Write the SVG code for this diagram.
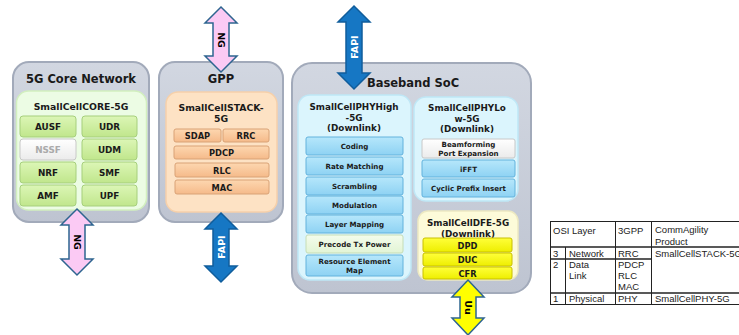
<svg xmlns="http://www.w3.org/2000/svg" width="739" height="335" viewBox="0 0 739 335">
<defs>
<linearGradient id="gGray" x1="0" y1="0" x2="0" y2="1"><stop offset="0" stop-color="#d2d7e1"/><stop offset="1" stop-color="#bec4d1"/></linearGradient>
<linearGradient id="gGreen" x1="0" y1="0" x2="0" y2="1"><stop offset="0" stop-color="#dcf6b6"/><stop offset="1" stop-color="#c0e68c"/></linearGradient>
<linearGradient id="gOrange" x1="0" y1="0" x2="0" y2="1"><stop offset="0" stop-color="#fdd7b0"/><stop offset="1" stop-color="#f5ba8a"/></linearGradient>
<linearGradient id="gBlue" x1="0" y1="0" x2="0" y2="1"><stop offset="0" stop-color="#b6e7fb"/><stop offset="1" stop-color="#8ed2f3"/></linearGradient>
<linearGradient id="gYellow" x1="0" y1="0" x2="0" y2="1"><stop offset="0" stop-color="#ffff3a"/><stop offset="1" stop-color="#eeee00"/></linearGradient>
<linearGradient id="gWhite" x1="0" y1="0" x2="0" y2="1"><stop offset="0" stop-color="#ffffff"/><stop offset="1" stop-color="#ebebeb"/></linearGradient>
<linearGradient id="gPale" x1="0" y1="0" x2="0" y2="1"><stop offset="0" stop-color="#f4fcec"/><stop offset="1" stop-color="#e2f4d5"/></linearGradient>
</defs>
<style>
.outer{fill:url(#gGray);stroke:#a2aaba;stroke-width:2}
.t{font-family:"DejaVu Sans",Verdana,sans-serif;font-weight:bold;fill:#1a1a1a;text-anchor:middle}
.title{font-size:11.5px}
.sub{font-size:9.3px}
.sub9{font-size:8.8px}
.c9{font-size:8.8px}
.c85{font-size:8.3px}
.c7{font-size:7.1px}
.cg{fill:url(#gGreen);stroke:#a6cf7c;stroke-width:1}
.co{fill:url(#gOrange);stroke:#d9a276;stroke-width:1}
.cb{fill:url(#gBlue);stroke:#62b2dc;stroke-width:1}
.cy{fill:url(#gYellow);stroke:#c8c000;stroke-width:1}
.cw{fill:url(#gWhite);stroke:#c8c8c8;stroke-width:1}
.cp{fill:url(#gPale);stroke:#c6ddb6;stroke-width:1}
.arr{stroke:#2e6590;stroke-width:1.5;stroke-linejoin:miter}
.ng{fill:#fbcaf4}
.fapi{fill:#1677c4;stroke:#105d9c}
.uu{fill:#ffff00}
.al{font-family:"DejaVu Sans",Verdana,sans-serif;font-weight:bold;font-size:9.5px;text-anchor:middle}
.tb{font-family:"Liberation Sans",Arial,sans-serif;font-size:9.5px;fill:#222}
.tl{stroke:#222;stroke-width:1;fill:none}
</style>

<g id="core">
<rect class="outer" x="13" y="62" width="136" height="160" rx="16"/>
<text class="t title" x="81" y="83">5G Core Network</text>
<rect x="16.5" y="91" width="130" height="119" rx="12" fill="#ecfce4" stroke="#d2efbf" stroke-width="1.5"/>
<text class="t sub" x="81" y="110">SmallCellCORE-5G</text>
<rect class="cg" x="20" y="116" width="56" height="21" rx="3"/><text class="t c9" x="48" y="130">AUSF</text>
<rect class="cg" x="82" y="116" width="55" height="21" rx="3"/><text class="t c9" x="109.5" y="130">UDR</text>
<rect class="cw" x="20" y="139" width="56" height="21" rx="3"/><text class="t c9" x="48" y="153" style="fill:#aaaaaa">NSSF</text>
<rect class="cg" x="82" y="139" width="55" height="21" rx="3"/><text class="t c9" x="109.5" y="153">UDM</text>
<rect class="cg" x="20" y="162" width="56" height="21" rx="3"/><text class="t c9" x="48" y="176">NRF</text>
<rect class="cg" x="82" y="162" width="55" height="21" rx="3"/><text class="t c9" x="109.5" y="176">SMF</text>
<rect class="cg" x="20" y="185" width="56" height="21" rx="3"/><text class="t c9" x="48" y="199">AMF</text>
<rect class="cg" x="82" y="185" width="55" height="21" rx="3"/><text class="t c9" x="109.5" y="199">UPF</text>
</g>

<g id="gpp">
<rect class="outer" x="159" y="62" width="124" height="160" rx="16"/>
<text class="t title" x="221" y="83">GPP</text>
<rect x="166" y="92" width="111" height="120" rx="12" fill="#fde2c4" stroke="#f6d0aa" stroke-width="1.5"/>
<text class="t sub" x="221" y="111">SmallCellSTACK-</text>
<text class="t sub" x="221" y="121.5">5G</text>
<rect class="co" x="174" y="129" width="47" height="13" rx="2"/><text class="t c85" x="197.5" y="139">SDAP</text>
<rect class="co" x="223" y="129" width="46" height="13" rx="2"/><text class="t c85" x="246" y="139">RRC</text>
<rect class="co" x="174" y="146" width="95" height="13" rx="2"/><text class="t c85" x="221.5" y="156">PDCP</text>
<rect class="co" x="175" y="163" width="94" height="14" rx="2"/><text class="t c85" x="222" y="173.5">RLC</text>
<rect class="co" x="175" y="180" width="94" height="14" rx="2"/><text class="t c85" x="222" y="190.5">MAC</text>
</g>

<g id="baseband">
<rect class="outer" x="292" y="63" width="239" height="230" rx="20"/>
<text class="t title" x="413" y="87">Baseband SoC</text>
</g>

<g id="phyhigh">
<rect x="298" y="95" width="113" height="185" rx="12" fill="#dbf5fd" stroke="#bfe7f6" stroke-width="1.5"/>
<text class="t sub9" x="354" y="110">SmallCellPHYHigh</text>
<text class="t sub9" x="354" y="120.5">-5G</text>
<text class="t sub9" x="354" y="131">(Downlink)</text>
<rect class="cb" x="306" y="137" width="97" height="18" rx="2"/><text class="t c7" x="354.5" y="149">Coding</text>
<rect class="cb" x="306" y="157" width="97" height="18" rx="2"/><text class="t c7" x="354.5" y="169">Rate Matching</text>
<rect class="cb" x="306" y="177" width="97" height="18" rx="2"/><text class="t c7" x="354.5" y="189">Scrambling</text>
<rect class="cb" x="306" y="196" width="97" height="18" rx="2"/><text class="t c7" x="354.5" y="208">Modulation</text>
<rect class="cb" x="306" y="215" width="97" height="18" rx="2"/><text class="t c7" x="354.5" y="227">Layer Mapping</text>
<rect class="cp" x="306" y="235" width="97" height="18" rx="2"/><text class="t c7" x="354.5" y="247">Precode Tx Power</text>
<rect class="cb" x="306" y="255" width="97" height="21" rx="2"/><text class="t c7" x="354.5" y="264">Resource Element</text><text class="t c7" x="354.5" y="273">Map</text>
</g>

<g id="phylow">
<rect x="414" y="97" width="104" height="104" rx="12" fill="#dbf5fd" stroke="#bfe7f6" stroke-width="1.5"/>
<text class="t sub9" x="467" y="111">SmallCellPHYLo</text>
<text class="t sub9" x="467" y="121.5">w-5G</text>
<text class="t sub9" x="467" y="132">(Downlink)</text>
<rect class="cw" x="422" y="139" width="93" height="19" rx="2"/><text class="t c7" x="468.5" y="147">Beamforming</text><text class="t c7" x="468.5" y="156">Port Expansion</text>
<rect class="cb" x="422" y="160" width="93" height="17" rx="2"/><text class="t c7" x="468.5" y="171.5">iFFT</text>
<rect class="cb" x="422" y="179" width="93" height="18" rx="2"/><text class="t c7" x="468.5" y="191">Cyclic Prefix Insert</text>
</g>

<g id="dfe">
<rect x="418" y="211" width="100" height="69" rx="10" fill="#fdfbd9" stroke="#ede9c2" stroke-width="1.5"/>
<text class="t sub9" x="468" y="226">SmallCellDFE-5G</text>
<text class="t sub9" x="468" y="237">(Downlink)</text>
<rect class="cy" x="423" y="238" width="89" height="14" rx="2"/><text class="t c85" x="467.5" y="248.5">DPD</text>
<rect class="cy" x="423" y="253" width="89" height="13" rx="2"/><text class="t c85" x="467.5" y="263">DUC</text>
<rect class="cy" x="423" y="267" width="89" height="12" rx="2"/><text class="t c85" x="467.5" y="276.5">CFR</text>
</g>

<g id="connectors">
<g id="ng-top">
<path class="arr ng" d="M221,7 L237,23 L229,23 L229,56 L237,56 L221,72 L205,56 L213,56 L213,23 L205,23 Z"/>
<text class="al" transform="translate(221,40) rotate(90)" y="3.5">NG</text>
</g>
<g id="ng-bottom">
<path class="arr ng" d="M77,209 L93,225 L85,225 L85,259 L93,259 L77,275 L61,259 L69,259 L69,225 L61,225 Z"/>
<text class="al" transform="translate(77,242) rotate(90)" y="3.5">NG</text>
</g>
<g id="fapi-top">
<path class="arr fapi" d="M354,6 L370,22 L362,22 L362,73 L370,73 L354,89 L338,73 L346,73 L346,22 L338,22 Z"/>
<text class="al" transform="translate(354,47) rotate(-90)" y="3.5" fill="#ffffff">FAPI</text>
</g>
<g id="fapi-bottom">
<path class="arr fapi" d="M221,213 L237,229 L229,229 L229,266 L237,266 L221,282 L205,266 L213,266 L213,229 L205,229 Z"/>
<text class="al" transform="translate(221,247) rotate(-90)" y="3.5" fill="#ffffff">FAPI</text>
</g>
<g id="uu">
<path class="arr uu" d="M468,280 L484,297 L476,297 L476,318 L484,318 L468,335 L452,318 L460,318 L460,297 L452,297 Z"/>
<text class="al" transform="translate(468,307.5) rotate(90)" y="3.5">Uu</text>
</g>
</g>

<g id="table">
<rect class="tl" x="550.5" y="221.5" width="200" height="83"/>
<line class="tl" x1="550" y1="247" x2="750" y2="247" style="stroke-width:1.5"/>
<line class="tl" x1="550" y1="259" x2="651" y2="259" style="stroke-width:1.5"/>
<line class="tl" x1="550" y1="293" x2="750" y2="293" style="stroke-width:1.5"/>
<line class="tl" x1="565.5" y1="247" x2="565.5" y2="305"/>
<line class="tl" x1="615.5" y1="221" x2="615.5" y2="305"/>
<line class="tl" x1="651.5" y1="221" x2="651.5" y2="305"/>
<text class="tb" x="553" y="234">OSI Layer</text>
<text class="tb" x="618" y="234">3GPP</text>
<text class="tb" x="655" y="233">CommAgility</text>
<text class="tb" x="655" y="245">Product</text>
<text class="tb" x="553" y="256.5">3</text>
<text class="tb" x="569" y="256.5">Network</text>
<text class="tb" x="618" y="256.5">RRC</text>
<text class="tb" x="655" y="256.5">SmallCellSTACK-5G</text>
<text class="tb" x="553" y="268">2</text>
<text class="tb" x="569" y="268">Data</text>
<text class="tb" x="569" y="279">Link</text>
<text class="tb" x="618" y="268">PDCP</text>
<text class="tb" x="618" y="279">RLC</text>
<text class="tb" x="618" y="290">MAC</text>
<text class="tb" x="553" y="302">1</text>
<text class="tb" x="569" y="302">Physical</text>
<text class="tb" x="618" y="302">PHY</text>
<text class="tb" x="655" y="302">SmallCellPHY-5G</text>
</g>
</svg>
